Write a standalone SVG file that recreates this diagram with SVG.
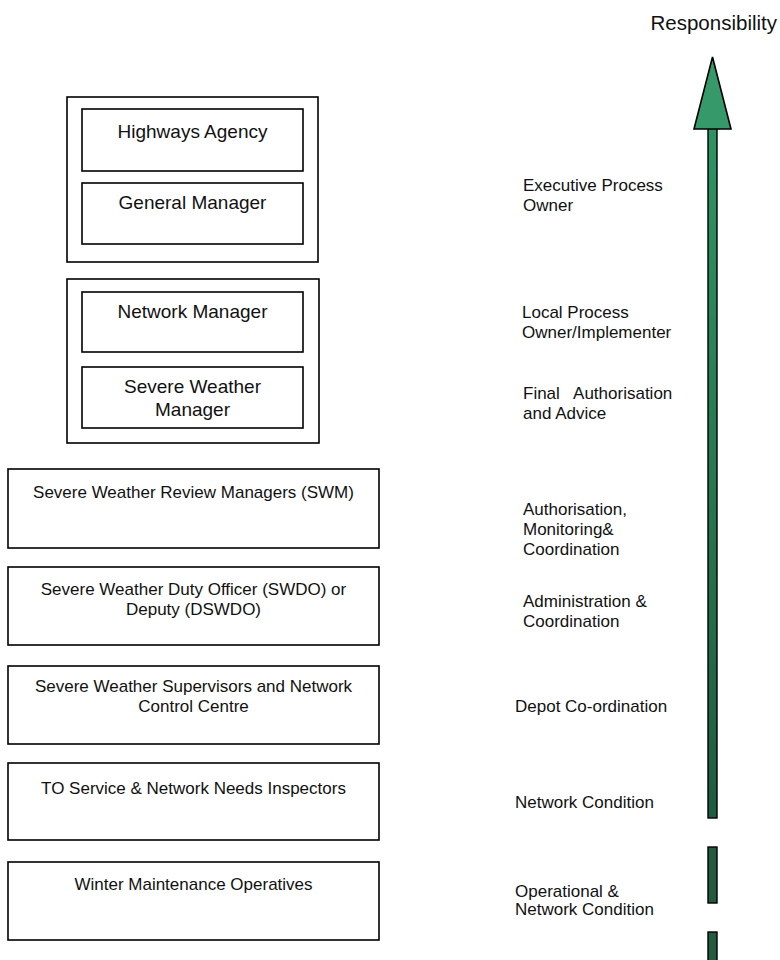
<svg xmlns="http://www.w3.org/2000/svg" width="780" height="960" viewBox="0 0 780 960">
<style>
.box{fill:#fff;stroke:#000;stroke-width:1.6}
.t{font-family:"Liberation Sans",Arial,sans-serif;fill:#111}
.big{font-size:19px;text-anchor:middle}
.mid{font-size:17px;text-anchor:middle}
.lab{font-size:17px;white-space:pre}
</style>
<defs>
<linearGradient id="shaft" x1="0" y1="0" x2="0" y2="1">
<stop offset="0" stop-color="#2f9461"/>
<stop offset="1" stop-color="#205c3f"/>
</linearGradient>
</defs>
<rect width="780" height="960" fill="#fff"/>
<text class="t" x="777" y="30" font-size="20.5" text-anchor="end">Responsibility</text>

<g id="group-top">
<rect class="box" x="67" y="97" width="251" height="165"/>
<g id="highways-agency"><rect class="box" x="82" y="109" width="221" height="62"/><text class="t big" x="192.5" y="138">Highways Agency</text></g>
<g id="general-manager"><rect class="box" x="82" y="183" width="221" height="61"/><text class="t big" x="192.5" y="209">General Manager</text></g>
</g>
<g id="group-local">
<rect class="box" x="67" y="279" width="252" height="164"/>
<g id="network-manager"><rect class="box" x="82" y="292" width="221" height="60"/><text class="t big" x="192.5" y="318">Network Manager</text></g>
<g id="severe-weather-manager"><rect class="box" x="82" y="367" width="221" height="61"/><text class="t big" x="192.5" y="393">Severe Weather</text><text class="t big" x="192.5" y="416">Manager</text></g>
</g>
<g id="swm"><rect class="box" x="8" y="469" width="371" height="79"/><text class="t mid" x="193.5" y="498">Severe Weather Review Managers (SWM)</text></g>
<g id="swdo"><rect class="box" x="8" y="567" width="371" height="78"/><text class="t mid" x="193.5" y="595">Severe Weather Duty Officer (SWDO) or</text><text class="t mid" x="193.5" y="615">Deputy (DSWDO)</text></g>
<g id="supervisors"><rect class="box" x="8" y="666" width="371" height="78"/><text class="t mid" x="193.5" y="692">Severe Weather Supervisors and Network</text><text class="t mid" x="193.5" y="712">Control Centre</text></g>
<g id="inspectors"><rect class="box" x="8" y="763" width="371" height="77"/><text class="t mid" x="193.5" y="794">TO Service &amp; Network Needs Inspectors</text></g>
<g id="operatives"><rect class="box" x="8" y="862" width="371" height="78"/><text class="t mid" x="193.5" y="890">Winter Maintenance Operatives</text></g>

<g id="labels">
<text class="t lab" x="523" y="191">Executive Process</text><text class="t lab" x="523" y="211">Owner</text>
<text class="t lab" x="522" y="318">Local Process</text><text class="t lab" x="522" y="338">Owner/Implementer</text>
<text class="t lab" x="523" y="399">Final   Authorisation</text><text class="t lab" x="523" y="419">and Advice</text>
<text class="t lab" x="523" y="515">Authorisation,</text><text class="t lab" x="523" y="535">Monitoring&amp;</text><text class="t lab" x="523" y="555">Coordination</text>
<text class="t lab" x="523" y="607">Administration &amp;</text><text class="t lab" x="523" y="627">Coordination</text>
<text class="t lab" x="515" y="712">Depot Co-ordination</text>
<text class="t lab" x="515" y="808">Network Condition</text>
<text class="t lab" x="515" y="897">Operational &amp;</text><text class="t lab" x="515" y="915">Network Condition</text>
</g>

<g id="connectors">
<rect x="708" y="126" width="9" height="692" fill="url(#shaft)" stroke="#000" stroke-width="1.4"/>
<polygon points="712.5,57 731,129 694,129" fill="#35996a" stroke="#000" stroke-width="1.6" stroke-linejoin="miter"/>
<rect x="708" y="847" width="9" height="56" fill="#245a3e" stroke="#000" stroke-width="1.4"/>
<rect x="708" y="932" width="9" height="40" fill="#245a3e" stroke="#000" stroke-width="1.4"/>
</g>
</svg>
